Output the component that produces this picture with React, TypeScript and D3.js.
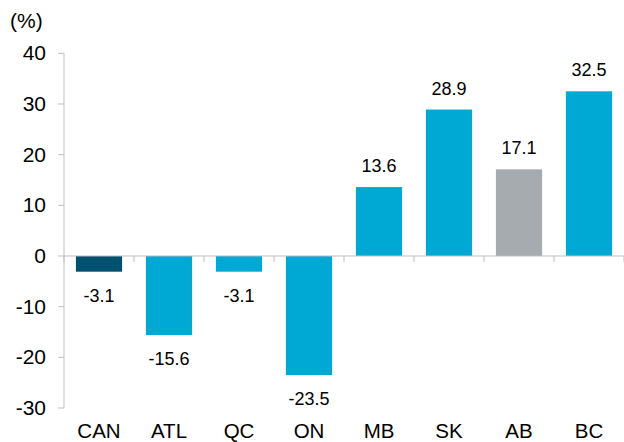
import React from "react";
import * as d3 from "d3";

const categories = ["CAN", "ATL", "QC", "ON", "MB", "SK", "AB", "BC"];
const values = [-3.1, -15.6, -3.1, -23.5, 13.6, 28.9, 17.1, 32.5];
const barColors = ["#00506F", "#00A9D3", "#00A9D3", "#00A9D3", "#00A9D3", "#00A9D3", "#A5ABAE", "#00A9D3"];
const yTicks = [40, 30, 20, 10, 0, -10, -20, -30];
const unitLabel = "(%)";

export default function App() {
  const W = 624, H = 442;
  const x = d3.scaleBand<string>().domain(categories).range([64, 624]).paddingInner(0.34).paddingOuter(0.17);
  const y = d3.scaleLinear().domain([-30, 40]).range([408, 53.3]);
  const font = "Arial, 'Liberation Sans', sans-serif";
  const axisColor = "#BFBFBF";
  const boundaries = d3.range(categories.length + 1).map((i) => 64 + (560 / categories.length) * i);
  return (
    <svg width={W} height={H} style={{ position: "absolute", left: 0, top: 0 }} fontFamily={font}>
      <text x={10} y={28} fontSize={21} fill="#000">{unitLabel}</text>
      <line x1={64} x2={64} y1={y(40)} y2={y(-30)} stroke={axisColor} />
      {yTicks.map((t) => (
        <g key={t}>
          <line x1={58} x2={64} y1={y(t)} y2={y(t)} stroke={axisColor} />
          <text x={46} y={y(t) + 7} textAnchor="end" fontSize={21} fill="#000">{t}</text>
        </g>
      ))}
      {categories.map((c, i) => {
        const v = values[i];
        const y0 = y(0), y1 = y(v);
        return (
          <g key={c}>
            <rect x={x(c)} width={x.bandwidth()} y={Math.min(y0, y1)} height={Math.abs(y1 - y0)} fill={barColors[i]} />
            <text x={x(c)! + x.bandwidth() / 2} y={v >= 0 ? y1 - 15 : y1 + 30} textAnchor="middle" fontSize={18} fill="#000">
              {v.toFixed(1)}
            </text>
            <text x={x(c)! + x.bandwidth() / 2} y={438} textAnchor="middle" fontSize={20.5} fill="#000">{c}</text>
          </g>
        );
      })}
      <line x1={64} x2={624} y1={y(0)} y2={y(0)} stroke={axisColor} />
      {boundaries.map((b, i) => (
        <line key={i} x1={b} x2={b} y1={y(0)} y2={y(0) + 6} stroke={axisColor} />
      ))}
    </svg>
  );
}
